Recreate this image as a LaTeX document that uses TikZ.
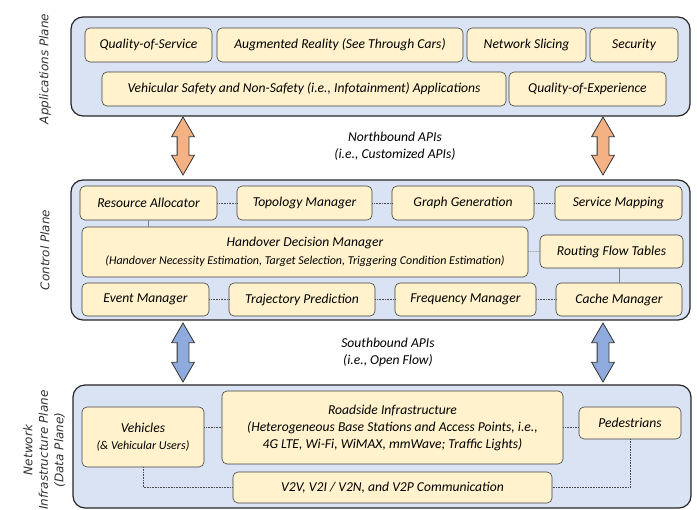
\documentclass[tikz,border=0pt]{standalone}
\usepackage{fontspec}
\setmainfont{Carlito}
\newfontfamily\sidefont{DejaVu Sans}
\usetikzlibrary{shapes.arrows,positioning}
\definecolor{myplaneblue}{RGB}{218,227,243}
\definecolor{myboxyellow}{RGB}{255,242,204}
\definecolor{myorange}{RGB}{244,177,131}
\definecolor{myblue}{RGB}{143,170,220}

\begin{document}
\begin{tikzpicture}[
  x=1pt, y=-1pt,
  plane/.style={
    draw=black!85,
    line width=1.2pt,
    fill=myplaneblue,
    rounded corners=12pt,
    inner sep=0pt
    },
  item/.style={
    draw=black!75,
    line width=0.6pt,
    fill=myboxyellow,
    rounded corners=5pt,
    inner sep=0pt,
    align=center,
    font=\fontsize{13.6}{17}\selectfont\itshape
    },
  sidelabel/.style={
    rotate=90,
    align=center,
    text=black!80,
    font=\fontsize{12}{15.5}\selectfont\sidefont\itshape
    },
  apitext/.style={align=center, font=\fontsize{13.6}{17}\selectfont\itshape},
  apiarrow/.style={
    double arrow,
    draw=black!80,
    line width=0.8pt,
    rotate=90,
    inner xsep=0pt,
    inner ysep=5.5pt,
    double arrow head extend=5.5pt,
    double arrow tip angle=60
    },
  dotlink/.style={densely dotted, draw=black!70, line width=0.6pt},
  solidlink/.style={draw=black!50, line width=0.5pt}
]
\useasboundingbox (0,0) rectangle (697,510);

% planes
\node [plane, minimum width=619pt, minimum height=99pt] (app) at (380.5,66.5) {};
\node [plane, minimum width=619pt, minimum height=140pt] (ctrl) at (380.5,250) {};
\node [plane, minimum width=618pt, minimum height=123pt] (net) at (382,446.5) {};

\node [sidelabel] (applabel) at (45,69) {Applications Plane};
\node [sidelabel] (ctrllabel) at (45,250) {Control Plane};
\node [sidelabel] (netlabel) at (44,450) {Network\\Infrastructure Plane\\(Data Plane)};

% applications plane
\node [item, minimum width=127pt, minimum height=34pt] (qos) at (148.5,45) {Quality-of-Service};
\node [item, minimum width=246pt, minimum height=34pt] (ar) at (340,45) {Augmented Reality (See Through Cars)};
\node [item, minimum width=119pt, minimum height=34pt] (slicing) at (526.5,45) {Network Slicing};
\node [item, minimum width=88pt, minimum height=34pt] (security) at (634,45) {Security};
\node [item, minimum width=404pt, minimum height=34pt] (vsafety) at (304,89) {Vehicular Safety and Non-Safety (i.e., Infotainment) Applications};
\node [item, minimum width=157pt, minimum height=34pt] (qoe) at (587.5,89) {Quality-of-Experience};

% northbound
\node [apiarrow, fill=myorange, minimum height=58pt] (nbleft) at (183,146) {};
\node [apiarrow, fill=myorange, minimum height=58pt] (nbright) at (603,146) {};
\node [apitext] (nbtext) at (395,146.5) {Northbound APIs\\(i.e., Customized APIs)};

% control plane
\node [item, minimum width=137pt, minimum height=34pt] (resalloc) at (148.5,203) {Resource Allocator};
\node [item, minimum width=135pt, minimum height=34pt] (topo) at (304.5,203) {Topology Manager};
\node [item, minimum width=142pt, minimum height=34pt] (graph) at (463,203) {Graph Generation};
\node [item, minimum width=127pt, minimum height=34pt] (svcmap) at (618.5,203) {Service Mapping};
\node [item, minimum width=446pt, minimum height=50pt] (handover) at (305,252)
  {Handover Decision Manager\\[1pt]{\fontsize{12}{14}\selectfont(Handover Necessity Estimation, Target Selection, Triggering Condition Estimation)}};
\node [item, minimum width=143pt, minimum height=33pt] (rft) at (611.5,251.5) {Routing Flow Tables};
\node [item, minimum width=127pt, minimum height=33pt] (event) at (145.5,299.5) {Event Manager};
\node [item, minimum width=146pt, minimum height=33pt] (traj) at (302,299.5) {Trajectory Prediction};
\node [item, minimum width=141pt, minimum height=33pt] (freq) at (465.5,299.5) {Frequency Manager};
\node [item, minimum width=126pt, minimum height=33pt] (cache) at (619,299.5) {Cache Manager};

\draw [dotlink] (resalloc) -- (topo);
\draw [dotlink] (topo) -- (graph);
\draw [dotlink] (graph) -- (svcmap);
\draw [solidlink] (resalloc.south) -- (resalloc.south |- handover.north);
\draw [dotlink] (handover) -- (rft);
\draw [solidlink] (cache.north) -- (cache.north |- rft.south);
\draw [dotlink] (event) -- (traj);
\draw [dotlink] (traj) -- (freq);
\draw [dotlink] (freq) -- (cache);

% southbound
\node [apiarrow, fill=myblue, minimum height=59pt] (sbleft) at (183,352.5) {};
\node [apiarrow, fill=myblue, minimum height=59pt] (sbright) at (603,352.5) {};
\node [apitext] (sbtext) at (388,352.5) {Southbound APIs\\(i.e., Open Flow)};

% network infrastructure plane
\node [item, minimum width=122pt, minimum height=60pt] (veh) at (143,437)
  {Vehicles\\{\fontsize{12}{14}\selectfont(\& Vehicular Users)}};
\node [item, minimum width=341pt, minimum height=73pt] (road) at (392.5,427.5)
  {Roadside Infrastructure\\(Heterogeneous Base Stations and Access Points, i.e.,\\4G LTE, Wi-Fi, WiMAX, mmWave; Traffic Lights)};
\node [item, minimum width=102pt, minimum height=32pt] (ped) at (630,423) {Pedestrians};
\node [item, minimum width=319pt, minimum height=31pt] (v2v) at (392.5,487.5) {V2V, V2I / V2N, and V2P Communication};

\draw [dotlink] (veh.east |- road.west) -- (road.west);
\draw [dotlink] (road.east) -- (ped.west |- road.east);
\draw [dotlink] (veh.south) |- (v2v.west);
\draw [dotlink] (ped.south) |- (v2v.east);

\end{tikzpicture}
\end{document}
